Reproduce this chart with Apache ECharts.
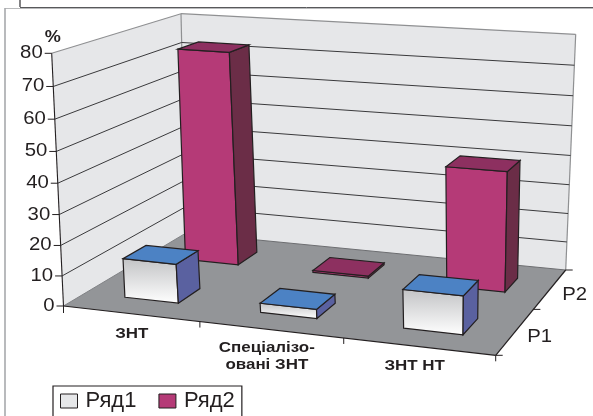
<!DOCTYPE html>
<html>
<head>
<meta charset="utf-8">
<style>
  html, body { margin: 0; padding: 0; background: #fff; }
  #main { width: 593px; height: 416px; }
</style>
<script src="https://cdn.jsdelivr.net/npm/echarts@6/dist/echarts.min.js"></script>
</head>
<body>
<div id="main"></div>
<script>
var categories = ['ЗНТ', 'Спеціалізо-\nовані ЗНТ', 'ЗНТ НТ'];
var rows = ['P1', 'P2'];
var valueTicks = [0, 10, 20, 30, 40, 50, 60, 70, 80];
var ryad1 = [13, 3, 12.5];
var ryad2 = [73, 0.7, 40.5];

// the hidden grid gives the scales, its plot area is then mapped on the 3d box
var GRID = { left: 100, top: 100, width: 300, height: 200 };

// corners of the box on the page: floor and the plane at the top value
var floorQuad = [[63.5, 306], [495.7, 355.3], [565.7, 270], [186, 233]];
var roofQuad = [[51.7, 53.3], [504, 87], [575.7, 34.3], [181, 13.7]];
var HEIGHT_PERSPECTIVE = 1.058;

// small hand nudges for the category captions
var catLabelDx = [1, -4, -4];
var catLabelDy = [12, 10, 11];

function squareToQuad(q) {
  var dx1 = q[1][0] - q[2][0], dx2 = q[3][0] - q[2][0], sx = q[0][0] - q[1][0] + q[2][0] - q[3][0];
  var dy1 = q[1][1] - q[2][1], dy2 = q[3][1] - q[2][1], sy = q[0][1] - q[1][1] + q[2][1] - q[3][1];
  var den = dx1 * dy2 - dx2 * dy1;
  var g = (sx * dy2 - dx2 * sy) / den;
  var h = (dx1 * sy - sx * dy1) / den;
  var a = q[1][0] - q[0][0] + g * q[1][0];
  var b = q[3][0] - q[0][0] + h * q[3][0];
  var d = q[1][1] - q[0][1] + g * q[1][1];
  var e = q[3][1] - q[0][1] + h * q[3][1];
  return function (u, v) {
    var w = g * u + h * v + 1;
    return [(a * u + b * v + q[0][0]) / w, (d * u + e * v + q[0][1]) / w];
  };
}
var floorAt = squareToQuad(floorQuad);
var roofAt = squareToQuad(roofQuad);

// u along categories, v along depth, w along values, all 0..1
function project(u, v, w) {
  var f = floorAt(u, v), r = roofAt(u, v);
  var t = w / (HEIGHT_PERSPECTIVE + (1 - HEIGHT_PERSPECTIVE) * w);
  return [f[0] + (r[0] - f[0]) * t, f[1] + (r[1] - f[1]) * t];
}
function uOf(px) { return (px - GRID.left) / GRID.width; }
function wOf(py) { return (GRID.top + GRID.height - py) / GRID.height; }

var EDGE = '#231f20';
var WALL_EDGE = '#8f9092';

function poly(points, fill) {
  return {
    type: 'polygon',
    shape: { points: points },
    style: { fill: fill, stroke: EDGE, lineWidth: 1.2 }
  };
}
function seg(p1, p2, color, width) {
  return {
    type: 'line',
    shape: { x1: p1[0], y1: p1[1], x2: p2[0], y2: p2[1] },
    style: { stroke: color, lineWidth: width, fill: null }
  };
}
function label(text, x, y, align, vAlign, size, weight) {
  return {
    type: 'text',
    x: x,
    y: y,
    scaleX: 1.13,
    style: {
      text: text, x: 0, y: 0, align: align, verticalAlign: vAlign,
      fontFamily: '"Liberation Sans", Arial, sans-serif',
      fontSize: size, fontWeight: weight, lineHeight: 17, fill: '#231f20'
    }
  };
}

function renderWalls() {
  var c = [project(0, 0, 0), project(1, 0, 0), project(1, 1, 0), project(0, 1, 0),
           project(0, 0, 1), project(1, 1, 1), project(0, 1, 1)];
  return {
    type: 'group',
    children: [
      { type: 'polygon', shape: { points: [c[0], c[4], c[6], c[3]] }, style: { fill: '#e6e7e9' } },
      { type: 'polygon', shape: { points: [c[3], c[6], c[5], c[2]] }, style: { fill: '#e6e7e9' } },
      { type: 'polygon', shape: { points: [c[0], c[1], c[2], c[3]] }, style: { fill: '#939598' } },
      seg(c[4], c[6], WALL_EDGE, 1.2),
      seg(c[6], c[5], WALL_EDGE, 1.2),
      seg(c[5], c[2], WALL_EDGE, 1.2),
      seg(c[6], c[3], WALL_EDGE, 1.2),
      seg(c[3], c[2], '#6d6e71', 1),
      seg(c[3], c[0], '#808285', 1)
    ]
  };
}

function renderValueTick(params, api) {
  var w = wOf(api.coord([0, api.value(1)])[1]);
  var a = project(0, 0, w), b = project(0, 1, w), c = project(1, 1, w);
  var children = [seg([a[0] - 7, a[1]], a, EDGE, 1)];
  if (w > 0 && w < 1) {
    children.push(seg(a, b, '#3a3a3c', 1), seg(b, c, '#3a3a3c', 1));
  }
  children.push(label(String(api.value(1)), a[0] - 9, a[1], 'right', 'middle', 18, 'normal'));
  return { type: 'group', children: children };
}

function renderAxisEdges() {
  var a = project(0, 0, 0), b = project(1, 0, 0), c = project(1, 1, 0), top = project(0, 0, 1);
  var m = project(1, 0.5, 0);
  return {
    type: 'group',
    children: [
      seg(a, top, EDGE, 1.1),
      seg(a, b, EDGE, 1.2),
      seg(b, c, EDGE, 1.2),
      seg(a, [a[0], a[1] + 7], EDGE, 1),
      seg(b, [b[0], b[1] + 6], EDGE, 1),
      seg(b, [b[0] + 7, b[1]], EDGE, 1),
      seg(m, [m[0] + 7, m[1]], EDGE, 1),
      seg(c, [c[0] + 7, c[1]], EDGE, 1),
      label('%', top[0] + 1, top[1] - 16, 'center', 'middle', 16, 'bold')
    ]
  };
}

function renderCategory(params, api) {
  var i = api.value(0);
  var band = api.size([1, 0])[0] / GRID.width;
  var u = uOf(api.coord([i, 0])[0]);
  var p = project(u, 0, 0);
  var right = project(u + band / 2, 0, 0);
  var children = [label(categories[i], p[0] + catLabelDx[i], p[1] + catLabelDy[i], 'center', 'top', 15, 'bold')];
  if (i < categories.length - 1) {
    children.push(seg(right, [right[0], right[1] + 6], EDGE, 1));
  }
  return { type: 'group', children: children };
}

function renderRow(params, api) {
  var p = project(1, (api.value(0) + 0.5) / rows.length, 0);
  return label(rows[api.value(0)], p[0] + 12, p[1] + 6, 'left', 'middle', 18, 'normal');
}

function barRenderer(row, halfWidth, shift, colors) {
  return function (params, api) {
    var centre = api.coord([api.value(0), api.value(1)]);
    var band = api.size([1, 0])[0] / GRID.width;
    var uc = uOf(centre[0]) + shift;
    var w = wOf(centre[1]);
    var u0 = uc - band * halfWidth, u1 = uc + band * halfWidth;
    var v0 = (row + 0.32) / rows.length, v1 = (row + 0.68) / rows.length;
    var fl = project(u0, v0, 0), fr = project(u1, v0, 0), br = project(u1, v1, 0);
    var tl = project(u0, v0, w), tr = project(u1, v0, w), tbr = project(u1, v1, w), tbl = project(u0, v1, w);
    return {
      type: 'group',
      children: [
        poly([fl, fr, tr, tl], colors.front),
        poly([fr, br, tbr, tr], colors.side),
        poly([tl, tr, tbr, tbl], colors.top)
      ]
    };
  };
}

var chartDom = document.getElementById('main');
var myChart = echarts.init(chartDom, null, { renderer: 'canvas' });

var silverFront = new echarts.graphic.LinearGradient(0, 0, 0, 1, [
  { offset: 0, color: '#c2c3c5' },
  { offset: 1, color: '#ffffff' }
]);

function toPairs(list) {
  return list.map(function (v, i) { return [i, v]; });
}

myChart.setOption({
  animation: false,
  backgroundColor: '#fff',
  grid: { left: GRID.left, top: GRID.top, width: GRID.width, height: GRID.height, show: false },
  xAxis: { type: 'category', data: categories, show: false },
  yAxis: { type: 'value', min: 0, max: 80, interval: 10, show: false },
  legend: {
    data: [
      { name: 'Ряд1', itemStyle: { color: '#e6e7e9', borderColor: EDGE, borderWidth: 1 } },
      { name: 'Ряд2', itemStyle: { color: '#b53a77', borderColor: EDGE, borderWidth: 1 } }
    ],
    left: 53,
    top: 386,
    orient: 'horizontal',
    icon: 'rect',
    itemWidth: 17,
    itemHeight: 14,
    itemGap: 22,
    padding: [4, 7, 14, 7],
    borderColor: EDGE,
    borderWidth: 1.2,
    selectedMode: false,
    textStyle: { fontFamily: '"Liberation Sans", Arial, sans-serif', fontSize: 22, color: '#231f20', padding: [0, 0, 0, 3] }
  },
  graphic: [
    { type: 'line', shape: { x1: 20, y1: 0, x2: 20, y2: 7 }, style: { stroke: '#58595b', lineWidth: 1.5 } },
    { type: 'line', shape: { x1: 20, y1: 7.5, x2: 593, y2: 7.5 }, style: { stroke: '#58595b', lineWidth: 1 } },
    { type: 'line', shape: { x1: 5, y1: 8.5, x2: 593, y2: 8.5 }, style: { stroke: '#b9babc', lineWidth: 1 } },
    { type: 'line', shape: { x1: 5, y1: 8, x2: 5, y2: 416 }, style: { stroke: '#a7a9ac', lineWidth: 1.6 } }
  ],
  series: [
    { type: 'custom', name: 'walls', silent: true, z: 1, renderItem: renderWalls, data: [[0, 0]] },
    {
      type: 'custom', name: 'ticks', silent: true, z: 2, renderItem: renderValueTick,
      encode: { x: 0, y: 1 },
      data: valueTicks.map(function (t) { return [0, t]; })
    },
    { type: 'custom', name: 'edges', silent: true, z: 3, renderItem: renderAxisEdges, data: [[0, 0]] },
    { type: 'custom', name: 'cats', silent: true, z: 3, renderItem: renderCategory, data: categories.map(function (c, i) { return [i, 0]; }) },
    { type: 'custom', name: 'rows', silent: true, z: 3, renderItem: renderRow, data: rows.map(function (r, i) { return [i, 0]; }) },
    {
      type: 'custom', name: 'Ряд2', z: 4, encode: { x: 0, y: 1 },
      renderItem: barRenderer(1, 0.21, 0.004, { front: '#b53a77', side: '#6b2d47', top: '#8d3060' }),
      itemStyle: { color: '#b53a77' },
      data: toPairs(ryad2)
    },
    {
      type: 'custom', name: 'Ряд1', z: 5, encode: { x: 0, y: 1 },
      renderItem: barRenderer(0, 0.2, 0, { front: silverFront, side: '#5a61a0', top: '#4c82c4' }),
      itemStyle: { color: '#e6e7e9' },
      data: toPairs(ryad1)
    }
  ]
});
</script>
</body>
</html>
